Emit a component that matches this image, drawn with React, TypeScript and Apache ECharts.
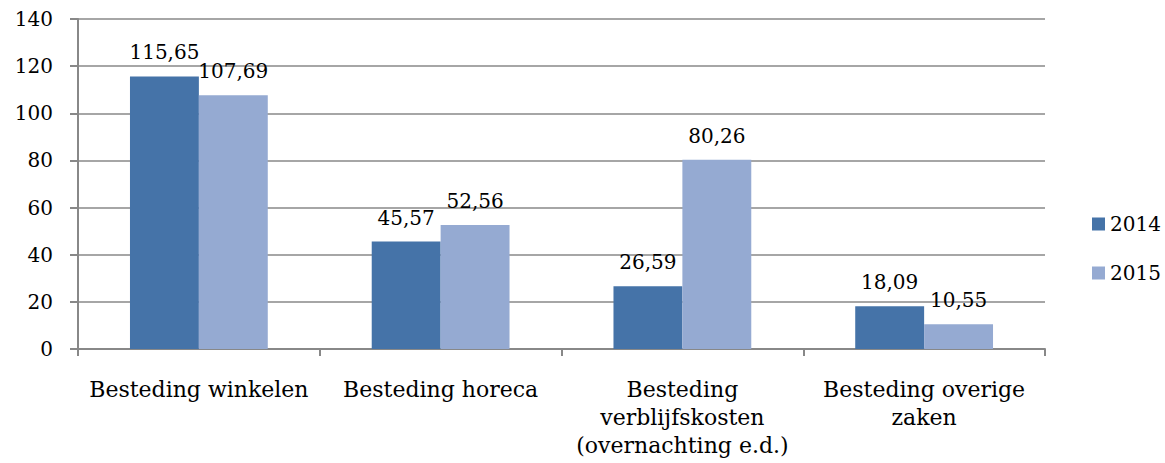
import React, { useEffect, useRef } from "react";
import * as echarts from "echarts";

const categories = [
  "Besteding winkelen",
  "Besteding horeca",
  "Besteding\nverblijfskosten\n(overnachting e.d.)",
  "Besteding overige\nzaken",
];
const series2014 = [115.65, 45.57, 26.59, 18.09];
const series2015 = [107.69, 52.56, 80.26, 10.55];
const seriesNames = ["2014", "2015"];

const fmt = (v: number) => v.toFixed(2).replace(".", ",");

export default function App() {
  const ref = useRef<HTMLDivElement>(null);
  useEffect(() => {
    if (!ref.current) return;
    const chart = echarts.init(ref.current, undefined, { renderer: "svg" });
    const labelStyle = {
      show: true,
      position: "top" as const,
      distance: 14,
      fontFamily: "DejaVu Serif",
      fontSize: 20,
      color: "#000",
      formatter: (p: any) => fmt(p.value),
    };
    chart.setOption({
      animation: false,
      grid: { left: 78, right: 120, top: 19, bottom: 114, containLabel: false },
      legend: {
        orient: "vertical",
        left: 1087,
        top: 209,
        itemWidth: 13,
        itemHeight: 13,
        itemGap: 29,
        icon: "rect",
        textStyle: { fontFamily: "DejaVu Serif", fontSize: 20, color: "#000" },
        data: seriesNames,
      },
      xAxis: {
        type: "category",
        data: categories,
        axisLine: { lineStyle: { color: "#888", width: 2 } },
        axisTick: { show: true, length: 7, lineStyle: { color: "#888", width: 2 } },
        axisLabel: {
          fontFamily: "DejaVu Serif",
          fontSize: 22,
          color: "#000",
          margin: 26,
          lineHeight: 28,
          interval: 0,
        },
      },
      yAxis: {
        type: "value",
        min: 0,
        max: 140,
        interval: 20,
        axisLine: { show: true, lineStyle: { color: "#888", width: 2 } },
        axisTick: { show: true, length: 8, lineStyle: { color: "#888", width: 2 } },
        splitLine: { lineStyle: { color: "#888", width: 1.5 } },
        axisLabel: {
          fontFamily: "DejaVu Serif",
          fontSize: 20,
          color: "#000",
          margin: 25,
        },
      },
      series: [
        {
          name: seriesNames[0],
          type: "bar",
          data: series2014,
          barGap: "0%",
          barCategoryGap: "43%",
          itemStyle: { color: "#4573A8" },
          label: labelStyle,
        },
        {
          name: seriesNames[1],
          type: "bar",
          data: series2015,
          barGap: "0%",
          barCategoryGap: "43%",
          itemStyle: { color: "#95AAD2" },
          label: labelStyle,
        },
      ],
    });
    return () => chart.dispose();
  }, []);
  return (
    <div
      ref={ref}
      style={{ position: "absolute", left: 0, top: 0, width: 1165, height: 463 }}
    />
  );
}
